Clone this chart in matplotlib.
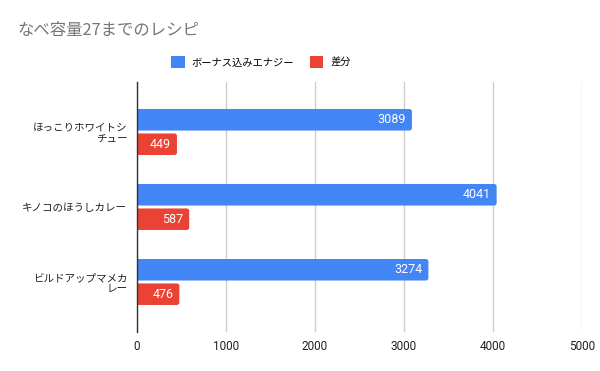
import matplotlib
matplotlib.use("Agg")
import matplotlib.pyplot as plt
import numpy as np
from matplotlib.patches import Patch, FancyBboxPatch

plt.rcParams['font.family'] = ['Noto Sans CJK JP', 'DejaVu Sans']

categories = ["ほっこりホワイトシ\nチュー", "キノコのほうしカレー", "ビルドアップマメカ\nレー"]
bonus_energy = [3089, 4041, 3274]
diff = [449, 587, 476]
series_names = ["ボーナス込みエナジー", "差分"]
xticks = [0, 1000, 2000, 3000, 4000, 5000]
title = "なべ容量27までのレシピ"

blue = "#4285F4"
red = "#EA4335"

fig = plt.figure(figsize=(6, 3.71), dpi=100)
ax = fig.add_axes([137/600, 1 - 332/371, (582-137)/600, (332-82)/371])

y = np.arange(len(categories))
h = 0.287
off = 0.163
b1 = ax.barh(y - off, bonus_energy, height=h, color=blue, alpha=0, zorder=3)
b2 = ax.barh(y + off, diff, height=h, color=red, alpha=0, zorder=3)

ax.set_ylim(2 + 0.667, -0.667)
ax.set_xlim(0, 5000)

# rounded bar ends (~2px radius)
rx = 2.5 / 445 * 5000
ry = 2.5 / 75
for bars, vals, col in ((b1, bonus_energy, blue), (b2, diff, red)):
    for rect, v in zip(bars, vals):
        y0 = rect.get_y()
        hh = rect.get_height()
        p = FancyBboxPatch((-200, y0), v + 200, hh,
                           boxstyle=f"round,pad=0,rounding_size={rx}",
                           mutation_aspect=ry / rx,
                           facecolor=col, edgecolor='none', zorder=3)
        ax.add_patch(p)
        ax.text(v - 65, y0 + hh/2, str(v),
                ha='right', va='center', color='white', fontsize=9,
                family=['Roboto', 'DejaVu Sans'], zorder=4)

ax.set_xticks(xticks)
ax.set_xticklabels([str(t) for t in xticks], fontsize=8.5, color='#222222',
                   family=['Roboto', 'DejaVu Sans'])
ax.set_yticks(y)
ax.set_yticklabels(categories, fontsize=7.6, color='#222222', linespacing=1.25)
ax.tick_params(axis='x', length=0, pad=6)
ax.tick_params(axis='y', length=0, pad=7)
ax.grid(axis='x', color='#cccccc', linewidth=1, zorder=0)
for s in ['top', 'right', 'bottom']:
    ax.spines[s].set_visible(False)
ax.spines['left'].set_color('#333333')
ax.spines['left'].set_linewidth(1)
ax.spines['left'].set_zorder(5)

fig.text(17/600, 1 - 31/371, title, fontsize=11.8, color='#757575', ha='left', va='center')

handles = [Patch(facecolor=blue, edgecolor='none'), Patch(facecolor=red, edgecolor='none')]
fig.legend(handles, series_names, loc='center', bbox_to_anchor=(0.435, 1 - 62/371),
           ncol=2, frameon=False, fontsize=7.4, handlelength=1.3, handleheight=1.3,
           handletextpad=0.7, columnspacing=1.5)

fig.savefig("out.png", dpi=100)
